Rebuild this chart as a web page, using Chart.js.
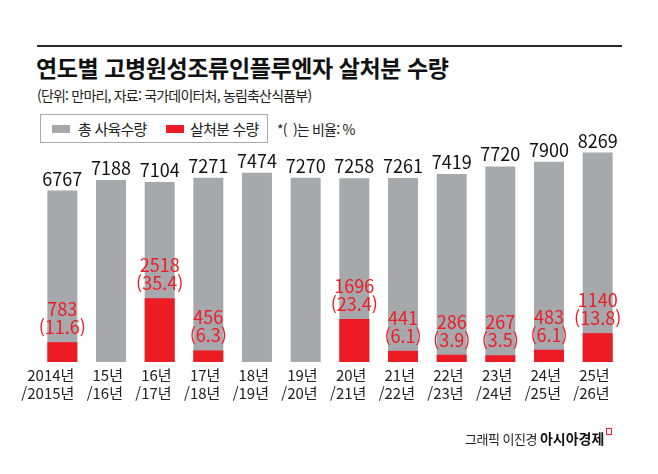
<!DOCTYPE html>
<html lang="ko">
<head>
  <meta charset="UTF-8">
  <title>연도별 고병원성조류인플루엔자 살처분 수량</title>
  <script src="https://cdn.jsdelivr.net/npm/chart.js"></script>
  <style>
    html, body {
      margin: 0;
      padding: 0;
      background: #fff;
    }
    body {
      width: 658px;
      height: 474px;
      position: relative;
      overflow: hidden;
      font-family: "Noto Sans CJK KR", "Noto Sans", sans-serif;
      color: #111;
    }
    .rule {
      position: absolute;
      left: 37px;
      top: 45px;
      width: 585px;
      height: 2px;
      background: #2a2a2a;
    }
    h1 {
      position: absolute;
      left: 36px;
      top: 52px;
      margin: 0;
      font-size: 23px;
      font-weight: 700;
      letter-spacing: -0.4px;
      line-height: 30px;
      white-space: nowrap;
    }
    .sub {
      position: absolute;
      left: 37px;
      top: 86px;
      font-size: 14px;
      letter-spacing: -0.8px;
      line-height: 18px;
      color: #222;
      white-space: nowrap;
    }
    .legend {
      position: absolute;
      left: 40px;
      top: 114px;
      width: 226px;
      height: 27px;
      border: 1px solid #aaa;
      box-sizing: content-box;
      background: #fff;
    }
    .legend span {
      position: absolute;
      top: 0;
      font-size: 15px;
      letter-spacing: -0.8px;
      line-height: 27px;
      color: #222;
      white-space: nowrap;
    }
    .legend i {
      position: absolute;
      top: 10px;
      width: 18px;
      height: 8px;
    }
    .note {
      position: absolute;
      left: 277px;
      top: 118px;
      font-size: 14px;
      letter-spacing: -0.8px;
      line-height: 22px;
      color: #222;
      white-space: nowrap;
    }
    .credit {
      position: absolute;
      left: 465px;
      top: 428px;
      font-size: 13px;
      letter-spacing: -0.5px;
      line-height: 20px;
      color: #222;
      white-space: nowrap;
    }
    .credit b {
      font-size: 14px;
      font-weight: 700;
      letter-spacing: 0;
      color: #111;
      margin-left: 3px;
    }
    .credit em {
      display: inline-block;
      width: 4px;
      height: 5px;
      border: 1.5px solid #e8202a;
      margin-left: 2px;
      vertical-align: 9px;
    }
    #wrap {
      position: absolute;
      left: 0;
      top: 0;
      width: 658px;
      height: 474px;
    }
  </style>
</head>
<body>
  <div class="rule"></div>
  <h1>연도별 고병원성조류인플루엔자 살처분 수량</h1>
  <div class="sub">(단위: 만마리, 자료: 국가데이터처, 농림축산식품부)</div>

  <div class="legend">
    <i style="left:11px;background:#a7a8ab"></i><span style="left:37px">총 사육수량</span>
    <i style="left:125px;background:#ed1c24"></i><span style="left:149px">살처분 수량</span>
  </div>
  <div class="note">*(&nbsp;&nbsp;)는 비율: %</div>

  <div id="wrap"><canvas id="grafico"></canvas></div>

  <div class="credit">그래픽 이진경<b>아시아경제</b><em></em></div>

  <script>
    // 단위: 만마리
    const seasons = [
      ['2014년', '/2015년'], ['15년', '/16년'], ['16년', '/17년'], ['17년', '/18년'],
      ['18년', '/19년'], ['19년', '/20년'], ['20년', '/21년'], ['21년', '/22년'],
      ['22년', '/23년'], ['23년', '/24년'], ['24년', '/25년'], ['25년', '/26년']
    ];
    const totalRaised = [6767, 7188, 7104, 7271, 7474, 7270, 7258, 7261, 7419, 7720, 7900, 8269];
    const culled = [783, null, 2518, 456, null, null, 1696, 441, 286, 267, 483, 1140];
    const culledRatio = [11.6, null, 35.4, 6.3, null, null, 23.4, 6.1, 3.9, 3.5, 6.1, 13.8];

    const GRAY = '#a7a8ab';
    const RED = '#ed1c24';

    // 막대 위 숫자 표시
    const valueLabels = {
      id: 'valueLabels',
      afterDatasetsDraw(chart) {
        const ctx = chart.ctx;
        ctx.save();
        ctx.textAlign = 'center';
        ctx.textBaseline = 'alphabetic';
        ctx.font = '18px "Noto Sans CJK KR", "Noto Sans", sans-serif';

        const grayMeta = chart.getDatasetMeta(1);
        grayMeta.data.forEach((bar, i) => {
          ctx.fillStyle = '#111';
          ctx.fillText(String(totalRaised[i]), bar.x, bar.y - 5);
        });

        const redMeta = chart.getDatasetMeta(0);
        redMeta.data.forEach((bar, i) => {
          if (culled[i] == null) return;
          ctx.fillStyle = RED;
          ctx.fillText(String(culled[i]), bar.x, bar.y - 26);
          ctx.fillText('(' + culledRatio[i].toFixed(1) + ')', bar.x, bar.y - 8);
        });
        ctx.restore();
      }
    };

    function desenhar() {
      const ctx = document.getElementById('grafico').getContext('2d');
      new Chart(ctx, {
        type: 'bar',
        data: {
          labels: seasons,
          datasets: [
            {
              label: '살처분 수량',
              data: culled,
              backgroundColor: RED,
              grouped: false,
              order: 0
            },
            {
              label: '총 사육수량',
              data: totalRaised,
              backgroundColor: GRAY,
              grouped: false,
              order: 1
            }
          ]
        },
        options: {
          responsive: true,
          maintainAspectRatio: false,
          animation: false,
          layout: {
            padding: { left: 38, right: 36, top: 134, bottom: 68 }
          },
          datasets: {
            bar: { barPercentage: 0.616, categoryPercentage: 1 }
          },
          plugins: {
            legend: { display: false },
            tooltip: { enabled: false }
          },
          scales: {
            x: {
              grid: { display: false, drawTicks: false, tickLength: 0 },
              border: { display: false },
              ticks: {
                color: '#222',
                font: { family: '"Noto Sans CJK KR", "Noto Sans", sans-serif', size: 15, lineHeight: 1.2 },
                padding: 4,
                align: 'end',
                labelOffset: 12,
                maxRotation: 0,
                autoSkip: false
              }
            },
            y: {
              display: false,
              min: 0,
              max: 9000
            }
          }
        },
        plugins: [valueLabels]
      });
    }

    document.addEventListener('DOMContentLoaded', desenhar);
  </script>
</body>
</html>
